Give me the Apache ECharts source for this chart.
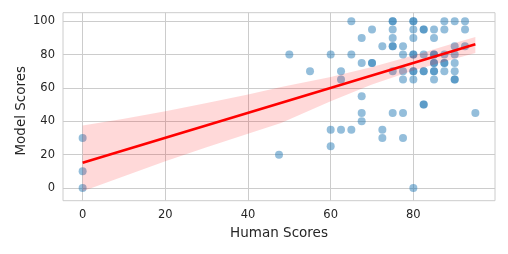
<!DOCTYPE html>
<html>
<head>
<meta charset="utf-8">
<script src="https://cdn.jsdelivr.net/npm/echarts@6/dist/echarts.min.js"></script>
<style>html,body{margin:0;padding:0;background:#fff;}#c{width:508px;height:254px;}</style>
</head>
<body>
<div id="c"></div>
<script>
// Scatter data: human score (x) and model score (y) per sample
const humanScores = [
  0, 0, 0,
  47.5,
  50,
  55,
  60, 60, 60,
  62.5, 62.5, 62.5,
  65, 65, 65,
  67.5, 67.5, 67.5, 67.5, 67.5,
  70, 70, 70,
  72.5, 72.5, 72.5,
  75, 75, 75, 75, 75, 75, 75, 75,
  77.5, 77.5, 77.5, 77.5, 77.5, 77.5,
  80, 80, 80, 80, 80, 80, 80, 80, 80, 80,
  82.5, 82.5, 82.5, 82.5, 82.5, 82.5, 82.5,
  85, 85, 85, 85, 85, 85, 85, 85, 85,
  87.5, 87.5, 87.5, 87.5, 87.5, 87.5,
  90, 90, 90, 90, 90, 90, 90,
  92.5, 92.5, 92.5,
  95
];
const modelScores = [
  0, 10, 30,
  20,
  80,
  70,
  80, 35, 25,
  70, 65, 35,
  100, 80, 35,
  90, 75, 55, 45, 40,
  95, 75, 75,
  85, 35, 30,
  100, 100, 95, 90, 85, 85, 70, 45,
  85, 80, 70, 65, 45, 30,
  100, 100, 95, 90, 80, 80, 70, 70, 65, 0,
  95, 95, 80, 70, 70, 50, 50,
  95, 90, 80, 80, 75, 75, 70, 70, 65,
  100, 95, 80, 75, 75, 70,
  100, 85, 80, 75, 70, 65, 65,
  100, 95, 85,
  45
];
// Regression line
const fitX = [0, 95];
const fitY = [15.2, 86.2];
// Confidence band
const bandX     = [0,    10,   20,   30,   40,   48,   60,   70,   80,   90,   95];
const bandUpper = [37.5, 41.5, 46,   51,   56,   60.5, 66.5, 72.5, 79.5, 87,   90.5];
const bandLower = [-2,   7,    16,   24.5, 32.5, 39,   52,   62,   70.5, 77.5, 81];
// Tick labels
const xTicks = [0, 20, 40, 60, 80];
const yTicks = [0, 20, 40, 60, 80, 100];

const chart = echarts.init(document.getElementById('c'), null, {renderer: 'canvas'});
const font = 'DejaVu Sans';
const gridColor = '#cccccc';
const labelColor = '#262626';

const scatterData = humanScores.map((x, i) => [x, modelScores[i]]);
const lineData = fitX.map((x, i) => [x, fitY[i]]);
const bandData = bandX.map((x, i) => [x, bandLower[i], bandUpper[i]]);

chart.setOption({
  animation: false,
  backgroundColor: '#ffffff',
  grid: {left: 63, right: 13, top: 12.7, bottom: 53.3, show: true, borderColor: gridColor, borderWidth: 1, backgroundColor: 'transparent'},
  xAxis: {
    type: 'value', min: -4.75, max: 99.75,
    name: 'Human Scores', nameLocation: 'middle', nameGap: 26, nameMoveOverlap: false,
    nameTextStyle: {fontFamily: font, fontSize: 13.5, color: labelColor},
    axisLine: {show: false},
    axisTick: {show: false, customValues: xTicks},
    axisLabel: {customValues: xTicks, fontFamily: font, fontSize: 11.5, color: labelColor, margin: 8},
    splitLine: {show: true, lineStyle: {color: gridColor, width: 1}}
  },
  yAxis: {
    type: 'value', min: -7.6, max: 105.1,
    name: 'Model Scores', nameLocation: 'middle', nameGap: 35, nameMoveOverlap: false,
    nameTextStyle: {fontFamily: font, fontSize: 13.5, color: labelColor, padding: [0, 8, 0, 0]},
    axisLine: {show: false},
    axisTick: {show: false, customValues: yTicks},
    axisLabel: {customValues: yTicks, fontFamily: font, fontSize: 11.5, color: labelColor, margin: 8},
    splitLine: {show: true, lineStyle: {color: gridColor, width: 1}}
  },
  series: [
    {
      type: 'scatter', data: scatterData, symbolSize: 8, z: 2, silent: true,
      itemStyle: {color: 'rgba(31,119,180,0.6)'}
    },
    {
      type: 'custom', data: bandData, encode: {x: 0, y: [1, 2]}, z: 3, silent: true, clip: true,
      renderItem: function (params, api) {
        if (params.dataIndex !== 0) return null;
        const pts = [];
        for (let i = 0; i < bandX.length; i++) pts.push(api.coord([bandX[i], bandUpper[i]]));
        for (let i = bandX.length - 1; i >= 0; i--) pts.push(api.coord([bandX[i], bandLower[i]]));
        return {type: 'polygon', shape: {points: pts, smooth: 0}, style: {fill: 'rgba(255,0,0,0.15)', stroke: null}};
      }
    },
    {
      type: 'line', data: lineData, showSymbol: false, z: 4, silent: true,
      lineStyle: {color: '#ff0000', width: 2.6}
    }
  ]
});
</script>
</body>
</html>
